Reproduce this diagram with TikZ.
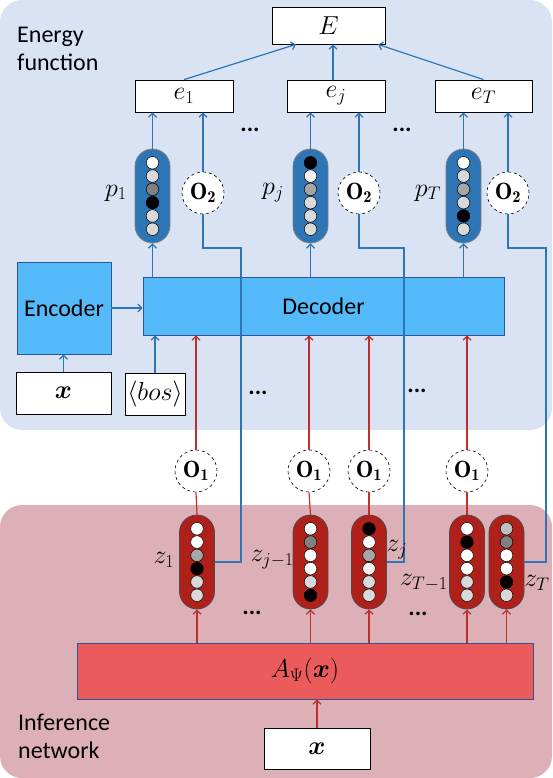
\RequirePackage{fix-cm}
\documentclass[tikz,border=0pt]{standalone}
\usepackage{fontspec}
\usepackage{amsmath}
\newfontfamily\carl{Carlito}
\usetikzlibrary{arrows.meta}
\definecolor{bgblue}{HTML}{DAE3F3}
\definecolor{bgpink}{HTML}{DDB0B8}
\definecolor{nnblue}{HTML}{55BAFA}
\definecolor{nnedge}{HTML}{2F5597}
\definecolor{capblue}{HTML}{2E75B6}
\definecolor{capred}{HTML}{B0201B}
\definecolor{linblue}{HTML}{2E75B6}
\definecolor{linred}{HTML}{C0302A}
\definecolor{abox}{HTML}{EB5B5B}
\definecolor{lg}{HTML}{D9D9D9}
\definecolor{mg}{HTML}{A6A6A6}
\definecolor{dg}{HTML}{808080}
\definecolor{sg}{HTML}{BFBFBF}
\definecolor{wl}{HTML}{F2F2F2}
\definecolor{wh}{HTML}{FFFFFF}
\definecolor{bk}{HTML}{000000}
\tikzset{
  wbox/.style={draw=black, fill=white, line width=0.8pt, inner sep=0pt},
  nnbox/.style={draw=nnedge, fill=nnblue, line width=0.8pt, inner sep=0pt, font=\fontsize{24}{28}\selectfont\carl},
  capb/.style={draw=gray, fill=capblue, line width=0.8pt, minimum width=35pt, minimum height=94pt, rounded corners=17.5pt, inner sep=0pt},
  capr/.style={draw=black!70, fill=capred, line width=0.8pt, minimum width=35pt, minimum height=94pt, rounded corners=17.5pt, inner sep=0pt},
  opnode/.style={circle, draw=black, dashed, fill=white, line width=0.6pt, minimum size=42pt, inner sep=0pt, font=\fontsize{23.5}{27}\selectfont},
  bline/.style={draw=linblue, line width=1.2pt},
  rline/.style={draw=linred, line width=1.2pt},
  barrow/.style={bline, -{Straight Barb[length=4pt,width=8pt]}},
  rarrow/.style={rline, -{Straight Barb[length=4pt,width=8pt]}},
  lbl/.style={inner sep=0pt},
  txt/.style={inner sep=0pt, anchor=base west, font=\fontsize{24}{28}\selectfont\carl},
  dotsnode/.style={inner sep=0pt, font=\fontsize{24}{28}\selectfont\carl\bfseries}
}
\newcommand\pillballs[2]{%
  \foreach \cc [count=\ii] in {#2}
    \filldraw[fill=\cc, draw=black, line width=0.5pt] (#1) ++(0,{(\ii-3.5)*13.3}) circle[radius=6.3pt];
}
\begin{document}
\begin{tikzpicture}[x=1pt,y=-1pt, font=\fontsize{26}{30}\selectfont]
\useasboundingbox (0,0) rectangle (552,778);
% backgrounds
\fill[bgblue, rounded corners=22pt] (0,0) rectangle (552,430);
\fill[bgpink, rounded corners=22pt] (0,505) rectangle (552,778);

\node[txt] (t1) at (17,43) {Energy};
\node[txt] (t2) at (17,71) {function};
\node[txt] (t3) at (18,730) {Inference};
\node[txt] (t4) at (18,758) {network};

% energy boxes
\node[wbox, minimum width=113pt, minimum height=37pt] (E) at (328.5,25.5) {$E$};
\node[wbox, minimum width=98pt, minimum height=32pt] (e1) at (184,96) {$e_1$};
\node[wbox, minimum width=98pt, minimum height=32pt] (ej) at (336,96) {$e_j$};
\node[wbox, minimum width=97pt, minimum height=32pt] (eT) at (483.5,96) {$e_T$};
\draw[barrow] (e1.north) -- ([xshift=-32.5pt]E.south);
\draw[barrow] ([xshift=-3pt]ej.north) -- ([xshift=-3pt]ej.north |- E.south);
\draw[barrow] (eT.north) -- ([xshift=49.5pt]E.south);

\node[dotsnode] (d1) at (250,130) {...};
\node[dotsnode] (d2) at (402,130) {...};

% encoder / decoder
\node[nnbox, minimum width=361pt, minimum height=58pt] (dec) at (323.5,306) {Decoder};
\node[nnbox, minimum width=94pt, minimum height=92pt] (enc) at (64,308) {Encoder};
\node[wbox, minimum width=95pt, minimum height=42pt] (xa) at (63.5,393) {$\boldsymbol{x}$};
\node[wbox, minimum width=60pt, minimum height=42pt] (bos) at (155,394) {$\langle bos\rangle$};
\draw[barrow] (xa.north) -- (xa.north |- enc.south);
\draw[barrow] (enc.east) -- (enc.east -| dec.west);
\draw[barrow] (bos.north) -- (bos.north |- dec.south);

% p capsules
\node[capb] (p1) at (152.5,196) {};
\node[capb] (pj) at (310.5,196) {};
\node[capb] (pT) at (463.5,196) {};
\pillballs{p1}{wh,lg,dg,bk,lg,lg}
\pillballs{pj}{bk,wl,mg,lg,lg,lg}
\pillballs{pT}{wh,lg,mg,lg,bk,lg}
\node[lbl] (lp1) at (116,193) {$p_1$};
\node[lbl] (lpj) at (273,193) {$p_j$};
\node[lbl] (lpT) at (428,193) {$p_T$};

\node[opnode] (O2a) at (203,193) {$\mathbf{O_2}$};
\node[opnode] (O2b) at (359,193) {$\mathbf{O_2}$};
\node[opnode] (O2c) at (508,193) {$\mathbf{O_2}$};

\draw[barrow] (p1.north) -- (p1.north |- e1.south);
\draw[barrow] (pj.north) -- (pj.north |- ej.south);
\draw[barrow] (pT.north) -- (pT.north |- eT.south);
\draw[barrow] (O2a.north) -- (O2a.north |- e1.south);
\draw[barrow] (O2b.north) -- (O2b.north |- ej.south);
\draw[barrow] (O2c.north) -- (O2c.north |- eT.south);

\draw[barrow] (dec.north -| p1) -- (p1.south);
\draw[barrow] (dec.north -| pj) -- (pj.south);
\draw[barrow] (dec.north -| pT) -- (pT.south);

\node[dotsnode] (d3) at (258,393) {...};
\node[dotsnode] (d4) at (417,391) {...};

% O1
\node[opnode] (O1a) at (196,471) {$\mathbf{O_1}$};
\node[opnode] (O1b) at (309,471) {$\mathbf{O_1}$};
\node[opnode] (O1c) at (369,471) {$\mathbf{O_1}$};
\node[opnode] (O1d) at (467,471) {$\mathbf{O_1}$};
\draw[rarrow] (O1a.north) -- (O1a.north |- dec.south);
\draw[rarrow] (O1b.north) -- (O1b.north |- dec.south);
\draw[rarrow] (O1c.north) -- (O1c.north |- dec.south);
\draw[rarrow] (O1d.north) -- (O1d.north |- dec.south);

% z capsules
\node[capr] (z1) at (197,562) {};
\node[capr] (zj1) at (310.5,562) {};
\node[capr] (zj) at (369,562) {};
\node[capr] (zT1) at (467,562) {};
\node[capr] (zT) at (506.5,562) {};
\pillballs{z1}{wh,wh,mg,bk,lg,lg}
\pillballs{zj1}{wh,dg,wh,wh,lg,bk}
\pillballs{zj}{bk,wh,mg,wl,lg,lg}
\pillballs{zT1}{wh,bk,wh,wh,lg,lg}
\pillballs{zT}{sg,dg,wh,wh,bk,lg}

\draw[rline] (z1.north) -- (O1a.south);
\draw[rline] (zj1.north) -- (O1b.south);
\draw[rline] (zj.north) -- (O1c.south);
\draw[rline] (zT1.north) -- (O1d.south);

% z to O2 connectors
\coordinate (k1) at (241,248);
\coordinate (k2) at (404,248);
\coordinate (k3) at (546,248);
\draw[bline] (z1.east) -| (k1) -| (O2a.south);
\draw[bline] (zj.east) -| (k2) -| (O2b.south);
\draw[bline] (zT.east) -| (k3) -| (O2c.south);

\node[lbl] (lz1) at (164,560) {$z_1$};
\node[lbl, anchor=east] (lzj1) at (294,560) {$z_{j-1}$};
\node[lbl] (lzj) at (397,550) {$z_j$};
\node[lbl, anchor=east] (lzT1) at (448,583) {$z_{T-1}$};
\node[lbl] (lzT) at (537,583) {$z_T$};

\node[dotsnode] (d5) at (252,613) {...};
\node[dotsnode] (d6) at (418,614) {...};

% inference network
\node[draw=nnedge, fill=abox, line width=0.8pt, minimum width=456pt, minimum height=56pt, inner sep=0pt] (A) at (305,671) {$A_\Psi(\boldsymbol{x})$};
\node[wbox, minimum width=106pt, minimum height=41pt] (xb) at (317,748.5) {$\boldsymbol{x}$};
\draw[rarrow] (xb.north) -- (xb.north |- A.south);
\draw[rarrow] (A.north -| z1) -- (z1.south);
\draw[rarrow] (A.north -| zj1) -- (zj1.south);
\draw[rarrow] (A.north -| zj) -- (zj.south);
\draw[rarrow] (A.north -| zT1) -- (zT1.south);
\draw[rarrow] (A.north -| zT) -- (zT.south);
\end{tikzpicture}
\end{document}
